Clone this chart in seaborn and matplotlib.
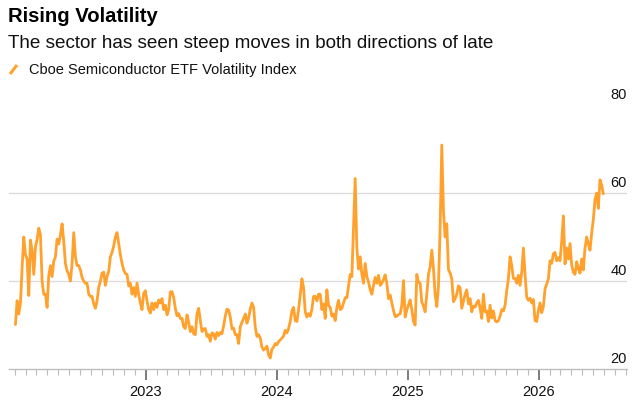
import numpy as np
import pandas as pd
import matplotlib
matplotlib.use("Agg")
import matplotlib.pyplot as plt
import matplotlib.dates as mdates
from matplotlib.lines import Line2D
import seaborn as sns

title = "Rising Volatility"
subtitle = "The sector has seen steep moves in both directions of late"
series_name = "Cboe Semiconductor ETF Volatility Index"

# evenly spaced readings between these two dates
start_date = "2022-01-03"
end_date = "2026-06-30"

vix_part1 = [30.1, 35.5, 32.5, 35, 43, 50, 46, 45, 36.7, 49.3, 47, 41.5, 47.7, 49.5, 52,
             50.5, 40, 37, 37, 34, 41.2, 43.5, 41, 44.5, 45.5, 49.5, 48.4, 50.5, 53, 49,
             44, 42.3, 41.5, 40, 44, 51, 45.5, 43.5, 43.5, 42.5, 40.8, 40, 39.5, 39.5, 37,
             36.5, 36.5, 34.8, 33.8, 35.5, 38.6, 40, 41.8, 42, 39, 41, 42.2, 45.5, 46.5]
vix_part2 = [48, 50, 51, 48.5, 46, 44, 42.5, 41.7, 41.5, 38.9, 39.5, 37, 38.5, 36.5, 39.5,
             37, 35, 33.5, 37.2, 37.8, 35.5, 33.5, 32.7, 35, 33.5, 35, 34, 35.7, 35, 36,
             33.5, 34.5, 32.3, 33.5, 37.5, 37.6, 36.3, 33.8, 32.1, 32.6, 31.5, 31.5, 29.6,
             29.2, 32.3, 30.6, 28.5, 29.6, 28, 27.8, 32.5, 33.8, 31, 28.5, 29.1, 29.2, 27.4,
             27.8, 26.3, 28.2, 28]
vix_part3 = [26.8, 28.3, 27.6, 28.3, 28, 29.8, 32, 33.6, 33.4, 31.8, 29.1, 29.3, 27.8, 27.8,
             25.8, 29.6, 30.6, 31.5, 32.5, 30.4, 31.6, 33.6, 35, 34, 29.5, 27.4, 27.8, 27,
             25, 24.3, 24.7, 25.2, 23.2, 22.5, 24.5, 25, 25.8, 25.5, 26.2, 26.6, 27, 27.5,
             28.8, 28.2, 29.2, 30.8, 33.2, 34, 31, 30.8, 33.5, 36.8, 40.5, 38.5, 33, 31.8,
             32.6, 32, 33.5, 36.5]
vix_part4 = [36.5, 35.5, 37, 37, 33.5, 34.8, 31.5, 38, 34.5, 34, 32, 32.5, 31, 34, 35.6,
             33.5, 33.8, 35, 36.2, 36.2, 38.8, 41.5, 41, 52, 63.3, 47.5, 42.7, 45.5, 41.5,
             39.5, 44, 41, 39.8, 38, 37, 39, 40.8, 39.5, 41.3, 39, 39.5, 40.3, 41.4, 39.5,
             36, 36.8, 35, 33.3, 31.9, 32, 32.4, 32.5, 34.5, 40.1, 31.8, 33.4, 34.6, 35.7,
             33.5, 30.8]
vix_part5 = [30, 41.5, 39.7, 39.5, 35.2, 34.3, 33, 37, 41.5, 43.2, 47, 42.8, 37, 34.2, 38.8,
             52, 70.9, 56, 50, 53, 42.6, 41.8, 40.5, 35.3, 36, 37, 38.9, 38.5, 33.8, 35.4,
             37, 38, 34.8, 36, 33, 34.3, 34.1, 35, 35.6, 33.8, 31.5, 37, 33, 33.2, 30.8,
             34.5, 31.6, 33.2, 31, 30.7, 31, 32, 33.5, 33.2, 34.5, 37.8, 40.5, 45.5, 43.5,
             40.6]
vix_part6 = [40.6, 39.5, 41.3, 39, 42, 47.5, 41.5, 36.3, 35.6, 36.1, 35, 35.8, 31, 30.8,
             33.3, 35, 32.8, 34.2, 38.2, 39.3, 40.5, 44.6, 44, 46.2, 46.5, 44.6, 45.3, 44.6,
             49, 54.8, 43.9, 47.5, 45, 48.5, 43.6, 42, 41.5, 44.4, 42.8, 41.8, 45, 42.5,
             47.5, 50, 48.4, 47, 50.8, 54, 58.5, 60, 56.5, 63, 61.8, 59.8]

y_ticks = [20, 40, 60, 80]
grid_lines = [40, 60]
year_ticks = ["2023", "2024", "2025", "2026"]

vix = vix_part1 + vix_part2 + vix_part3 + vix_part4 + vix_part5 + vix_part6
df = pd.DataFrame({
    "date": pd.date_range(start_date, end_date, periods=len(vix)),
    "value": vix,
})

sns.set_theme(style="white")
plt.rcParams["font.family"] = ["Liberation Sans", "DejaVu Sans"]

W, H = 642, 402
fig = plt.figure(figsize=(W / 100, H / 100), dpi=100)
ax = fig.add_axes([9 / W, 32 / H, 618 / W, 264 / H])

orange = "#ffa12c"
sns.lineplot(data=df, x="date", y="value", ax=ax, color=orange, linewidth=2.0)

ax.set_xlim(pd.Timestamp("2021-12-16"), pd.Timestamp("2026-09-04"))
ax.set_ylim(20, 80)
ax.set_xlabel("")
ax.set_ylabel("")

for s in ["top", "right", "left"]:
    ax.spines[s].set_visible(False)
ax.spines["bottom"].set_color("#bdbdbd")
ax.spines["bottom"].set_linewidth(1)

for t in grid_lines:
    ax.axhline(t, color="#dcdcdc", linewidth=1, zorder=0)
ax.set_yticks([])
for t in y_ticks:
    ax.annotate(str(t), xy=(1.0, t), xycoords=("axes fraction", "data"),
                xytext=(0, 5), textcoords="offset points",
                ha="right", va="baseline", fontsize=10.5, color="#111111")

ax.set_xticks([pd.Timestamp(f"{y}-01-01") for y in year_ticks])
ax.set_xticklabels(year_ticks, fontsize=10.5, color="#111111")
ax.xaxis.set_minor_locator(mdates.MonthLocator())
ax.tick_params(axis="x", which="major", direction="out", length=8, width=1.2,
               color="#666666", pad=3, bottom=True)
ax.tick_params(axis="x", which="minor", direction="out", length=4, width=0.8,
               color="#bbbbbb", bottom=True)

fig.text(8 / W, 1 - 22 / H, title, fontsize=14.6, fontweight="bold",
         ha="left", va="baseline", color="#000000")
fig.text(8 / W, 1 - 48.5 / H, subtitle, fontsize=13.6,
         ha="left", va="baseline", color="#111111")
fig.text(29 / W, 1 - 74 / H, series_name, fontsize=10.5,
         ha="left", va="baseline", color="#111111")
fig.add_artist(Line2D([10 / W, 17 / W], [1 - 75 / H, 1 - 66 / H],
                      color=orange, linewidth=2.2, solid_capstyle="butt"))

fig.savefig("out.png", dpi=100)
